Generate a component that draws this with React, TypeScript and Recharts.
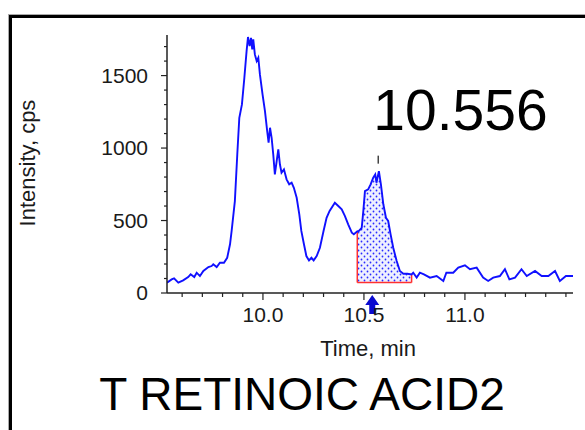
import { ComposedChart, Line, Area, XAxis, YAxis, ReferenceLine, ReferenceDot } from "recharts";

// chromatogram trace
const TIMES = [
  9.525, 9.548, 9.56, 9.581, 9.605, 9.63, 9.642, 9.66, 9.672, 9.688, 9.705, 9.73, 9.746, 9.754, 9.771, 9.787,
  9.807, 9.823, 9.837, 9.845, 9.861, 9.873, 9.883, 9.896, 9.908, 9.919, 9.926, 9.934, 9.941, 9.947, 9.952, 9.96,
  9.969, 9.977, 9.985, 9.998, 10.01, 10.021, 10.028, 10.035, 10.043, 10.051, 10.059, 10.068, 10.076, 10.084,
  10.092, 10.104, 10.117, 10.13, 10.142, 10.153, 10.167, 10.18, 10.19, 10.203, 10.215, 10.228, 10.24, 10.251,
  10.266, 10.282, 10.3, 10.315, 10.33, 10.356, 10.373, 10.39, 10.406, 10.422, 10.44, 10.45, 10.467, 10.475,
  10.489, 10.497, 10.505, 10.521, 10.533, 10.546, 10.556, 10.562, 10.574, 10.584, 10.596, 10.609, 10.62, 10.632,
  10.645, 10.662, 10.678, 10.695, 10.715, 10.736, 10.744, 10.761, 10.777, 10.797, 10.827, 10.86, 10.893, 10.908,
  10.942, 10.967, 11.0, 11.025, 11.058, 11.09, 11.115, 11.14, 11.173, 11.198, 11.22, 11.248, 11.28, 11.306,
  11.347, 11.38, 11.413, 11.446, 11.47, 11.5, 11.535,
];
const INTENSITY = [
  71, 94, 101, 71, 87, 110, 129, 110, 140, 117, 152, 179, 186, 198, 179, 209,
  209, 243, 336, 428, 634, 957, 1209, 1301, 1485, 1669, 1766, 1703, 1760, 1681, 1750, 1646,
  1600, 1623, 1508, 1370, 1255, 1117, 1037, 1140, 1071, 957, 818, 910, 991, 888,
  830, 853, 784, 750, 761, 726, 657, 543, 428, 336, 255, 225, 243, 225,
  255, 312, 428, 519, 566, 623, 600, 577, 531, 474, 416, 405, 425, 428,
  450, 566, 703, 715, 750, 795, 818, 761, 841, 750, 612, 519, 497, 405,
  312, 221, 152, 133, 133, 128, 140, 106, 140, 129, 106, 117, 83, 140,
  140, 175, 191, 164, 175, 106, 83, 106, 117, 164, 94, 106, 164, 117,
  152, 117, 117, 152, 83, 117, 117,
];

const X_TICKS = [9.6, 9.7, 9.8, 9.9, 10.0, 10.1, 10.2, 10.3, 10.4, 10.5, 10.6, 10.7, 10.8, 10.9, 11.0, 11.1, 11.2, 11.3, 11.4, 11.5];
const X_MAJOR = [10.0, 10.5, 11.0];
const Y_TICKS = [0, 100, 200, 300, 400, 500, 600, 700, 800, 900, 1000, 1100, 1200, 1300, 1400, 1500, 1600, 1700];
const Y_MAJOR = [0, 500, 1000, 1500];

// integrated peak
const PEAK_START = 10.467;
const PEAK_END = 10.736;
const PEAK_BASE = 72;
const APEX_TIME = 10.556;
const APEX_MARK = 920;
const APEX_LABEL = "10.556";
const TITLE = "T RETINOIC ACID2";

const FONT = "'Liberation Sans', Arial, sans-serif";

const data = TIMES.map((t, i) => ({
  time: t,
  intensity: INTENSITY[i],
  peak: t >= PEAK_START - 1e-9 && t <= PEAK_END + 1e-9 ? INTENSITY[i] : null,
}));
const startY = INTENSITY[TIMES.indexOf(PEAK_START)];
const endY = INTENSITY[TIMES.indexOf(PEAK_END)];

function XTick({ x, y, payload }: any) {
  const major = X_MAJOR.some((m) => Math.abs(m - payload.value) < 1e-6);
  return (
    <g>
      <line x1={x} x2={x} y1={y} y2={y + (major ? 7 : 4)} stroke="#222" strokeWidth={1.2} />
      {major && (
        <text x={x} y={y + 29} textAnchor="middle" fontSize={21} fill="#1a1a1a" fontFamily={FONT}>
          {payload.value.toFixed(1)}
        </text>
      )}
    </g>
  );
}

function YTick({ x, y, payload }: any) {
  const major = Y_MAJOR.includes(payload.value);
  return (
    <g>
      <line x1={x - (major ? 6 : 3)} x2={x} y1={y} y2={y} stroke="#222" strokeWidth={1.2} />
      {major && (
        <text x={x - 19} y={y + 7} textAnchor="end" fontSize={21} fill="#1a1a1a" fontFamily={FONT}>
          {payload.value}
        </text>
      )}
    </g>
  );
}

function ApexMark({ cx, cy }: any) {
  return (
    <g>
      <line x1={cx + 3} x2={cx + 3} y1={cy - 4} y2={cy + 4} stroke="#444" strokeWidth={1.5} />
      <text x={cx - 2} y={cy - 30} fontSize={57} fill="#000" fontFamily={FONT}>
        {APEX_LABEL}
      </text>
    </g>
  );
}

function ApexArrow({ cx, cy }: any) {
  const x = cx - 3;
  const y = cy + 2;
  return (
    <path
      d={`M${x},${y} L${x + 7},${y + 10} L${x + 3},${y + 10} L${x + 3},${y + 19} L${x - 3},${y + 19} L${x - 3},${y + 10} L${x - 7},${y + 10} Z`}
      fill="#0a0ad0"
    />
  );
}

export default function App() {
  return (
    <div style={{ position: "absolute", left: 0, top: 0, width: 585, height: 430, overflow: "hidden", background: "#fff" }}>
      <div
        style={{
          position: "absolute",
          left: 9,
          top: 15,
          width: 620,
          height: 500,
          border: "3px solid #000",
          boxShadow: "-1px -1px 0 #aaa",
        }}
      />
      <div style={{ position: "absolute", left: 0, top: 0 }}>
        <ComposedChart width={585} height={430} data={data} margin={{ top: 35, right: 12, bottom: 136, left: 166 }}>
          <defs>
            <pattern id="dots" width="6" height="6" patternUnits="userSpaceOnUse">
              <rect width="6" height="6" fill="#eef0ff" />
              <circle cx="1.5" cy="1.5" r="0.9" fill="#2a2aff" />
              <circle cx="4.5" cy="4.5" r="0.9" fill="#2a2aff" />
            </pattern>
          </defs>
          <XAxis
            dataKey="time"
            type="number"
            domain={[9.525, 11.535]}
            allowDataOverflow
            ticks={X_TICKS}
            interval={0}
            height={1}
            tickSize={0}
            tickMargin={0}
            tick={(p: any) => <XTick {...p} />}
            axisLine={{ stroke: "#222", strokeWidth: 1.5 }}
          />
          <YAxis
            type="number"
            domain={[0, 1780]}
            allowDataOverflow
            ticks={Y_TICKS}
            interval={0}
            width={1}
            tickSize={0}
            tickMargin={0}
            tick={(p: any) => <YTick {...p} />}
            axisLine={{ stroke: "#222", strokeWidth: 1.5 }}
          />
          <Area
            dataKey="peak"
            type="linear"
            baseValue={PEAK_BASE}
            stroke="none"
            fill="url(#dots)"
            fillOpacity={1}
            connectNulls={false}
            isAnimationActive={false}
          />
          <ReferenceLine segment={[{ x: PEAK_START, y: PEAK_BASE }, { x: PEAK_START, y: startY }]} stroke="#ff3030" strokeWidth={1.5} />
          <ReferenceLine segment={[{ x: PEAK_START, y: PEAK_BASE }, { x: PEAK_END, y: PEAK_BASE }]} stroke="#ff3030" strokeWidth={1.5} />
          <ReferenceLine segment={[{ x: PEAK_END, y: PEAK_BASE }, { x: PEAK_END, y: endY }]} stroke="#ff3030" strokeWidth={1.5} />
          <Line dataKey="intensity" type="linear" stroke="#1010ff" strokeWidth={1.9} dot={false} isAnimationActive={false} />
          <ReferenceDot x={APEX_TIME} y={APEX_MARK} r={3} shape={(p: any) => <ApexMark {...p} />} />
          <ReferenceDot x={APEX_TIME} y={0} r={3} shape={(p: any) => <ApexArrow {...p} />} />
        </ComposedChart>
      </div>
      <div
        style={{
          position: "absolute",
          left: 268,
          width: 200,
          top: 338,
          textAlign: "center",
          fontFamily: FONT,
          fontSize: 22,
          lineHeight: "22px",
          color: "#1a1a1a",
        }}
      >
        Time, min
      </div>
      <div
        style={{
          position: "absolute",
          left: 28 - 100,
          top: 163 - 12,
          width: 200,
          textAlign: "center",
          transform: "rotate(-90deg)",
          fontFamily: FONT,
          fontSize: 22,
          lineHeight: "24px",
          color: "#1a1a1a",
        }}
      >
        Intensity, cps
      </div>
      <div
        style={{
          position: "absolute",
          left: 2,
          width: 600,
          top: 371,
          textAlign: "center",
          fontFamily: FONT,
          fontSize: 46,
          lineHeight: "46px",
          color: "#000",
        }}
      >
        {TITLE}
      </div>
    </div>
  );
}
